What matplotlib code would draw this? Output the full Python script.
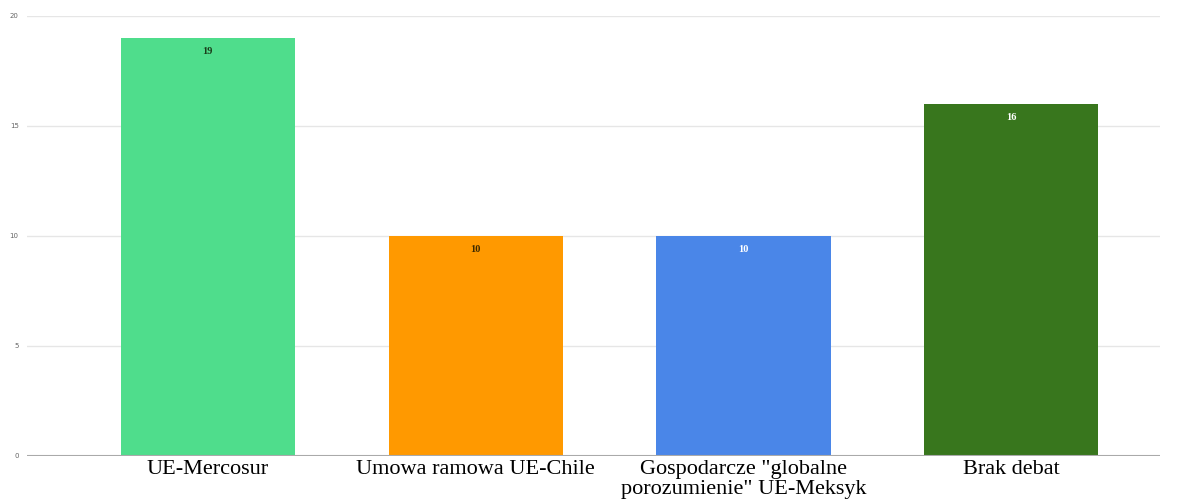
import matplotlib.pyplot as plt

# data
categories = ["UE-Mercosur", "Umowa ramowa UE-Chile",
              "Gospodarcze \"globalne\nporozumienie\" UE-Meksyk", "Brak debat"]
values = [19, 10, 10, 16]
bar_colors = ["#4fdd8c", "#ff9900", "#4a86e8", "#38761d"]
value_colors = ["#1a3d1a", "#3d2a00", "#ffffff", "#ffffff"]
y_ticks = [0, 5, 10, 15, 20]

fig = plt.figure(figsize=(11.82, 5.04), dpi=100)
ax = fig.add_axes([27 / 1182, 48 / 504, 1133 / 1182, 440 / 504])

x = range(len(categories))
bars = ax.bar(x, values, width=0.65, color=bar_colors, zorder=3)

for b, v, c in zip(bars, values, value_colors):
    ax.text(b.get_x() + b.get_width() / 2, v - 0.62, str(v), ha="center", va="center",
            fontsize=7.5, fontweight="bold", family="Liberation Serif", color=c, zorder=4)

ax.set_xlim(-0.675, 3.555)
ax.set_ylim(0, 20)
ax.set_yticks(y_ticks)
ax.set_yticklabels([str(t) for t in y_ticks], fontsize=5, color="#666666")
ax.set_xticks(list(x))
ax.set_xticklabels(categories, fontsize=16, family="Liberation Serif", linespacing=1.05)
ax.tick_params(axis="both", length=0)
ax.tick_params(axis="x", pad=3)
ax.tick_params(axis="y", pad=6)

ax.grid(axis="y", color="#e6e6e6", linewidth=1, zorder=0)
ax.axhline(0, color="#aaaaaa", linewidth=1.5, zorder=5)
for s in ax.spines.values():
    s.set_visible(False)

fig.savefig("out.png", dpi=100)
